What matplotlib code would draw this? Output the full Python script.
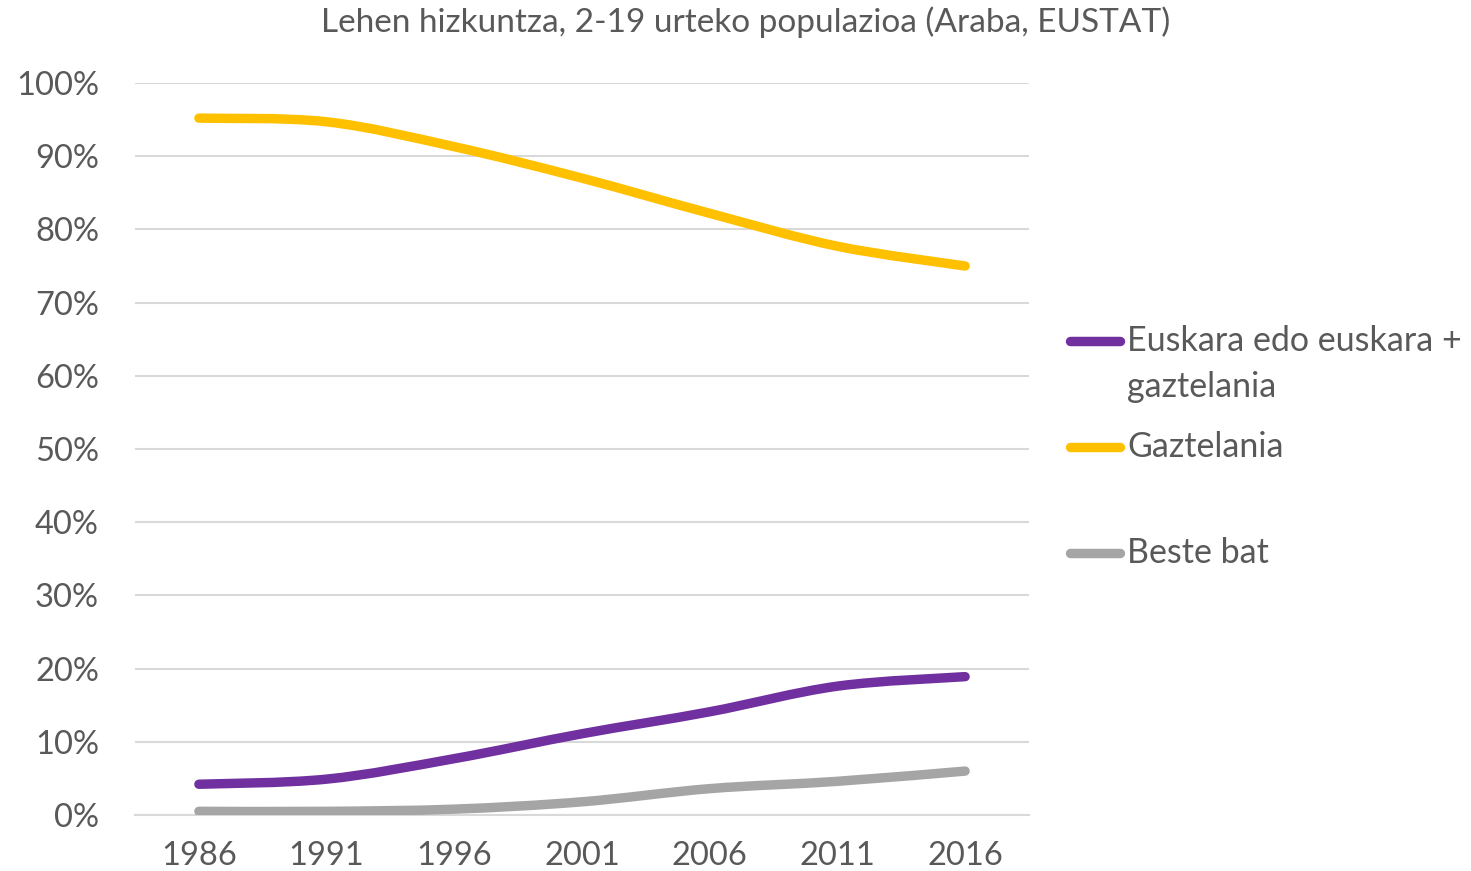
import numpy as np
import matplotlib.pyplot as plt
from matplotlib.path import Path
from matplotlib.patches import PathPatch
from matplotlib.lines import Line2D

years = ["1986", "1991", "1996", "2001", "2006", "2011", "2016"]
euskara = [4.2, 4.9, 7.7, 11.1, 14.1, 17.6, 18.9]
gaztelania = [95.2, 94.7, 91.3, 87.0, 82.2, 77.7, 75.0]
beste = [0.5, 0.5, 0.8, 1.8, 3.6, 4.6, 6.0]

series = [
    ("Euskara edo euskara +\ngaztelania", euskara, "#7030A0"),
    ("Gaztelania", gaztelania, "#FFC000"),
    ("Beste bat", beste, "#A5A5A5"),
]

plt.rcParams['font.family'] = ['Lato', 'DejaVu Sans']
txt = "#595959"


def smooth_path(x, y):
    # excel-like smoothed line: cubic bezier with catmull-rom control points
    pts = np.column_stack([x, y]).astype(float)
    n = len(pts)
    verts = [pts[0]]
    codes = [Path.MOVETO]
    for i in range(n - 1):
        p0 = pts[max(i - 1, 0)]
        p1 = pts[i]
        p2 = pts[i + 1]
        p3 = pts[min(i + 2, n - 1)]
        c1 = p1 + (p2 - p0) / 6
        c2 = p2 - (p3 - p1) / 6
        verts += [c1, c2, p2]
        codes += [Path.CURVE4] * 3
    return Path(verts, codes)


fig = plt.figure(figsize=(14.71, 8.71), dpi=100)
ax = fig.add_axes([0.0918, 0.0643, 0.6077, 0.8404])

x = np.arange(len(years))
for name, vals, col in series:
    p = PathPatch(smooth_path(x, vals), fill=False, edgecolor=col, lw=6.8,
                  capstyle='round', joinstyle='round', zorder=3)
    ax.add_patch(p)

ax.set_xlim(-0.5, len(years) - 0.5)
ax.set_ylim(0, 100)
ax.set_yticks(range(0, 101, 10))
ax.set_yticklabels([f"{v}%" for v in range(0, 101, 10)])
ax.set_xticks(x)
ax.set_xticklabels(years)
ax.grid(axis='y', color='#D9D9D9', lw=1.5)
ax.set_axisbelow(True)
for s in ax.spines.values():
    s.set_visible(False)
ax.spines['bottom'].set_visible(True)
ax.spines['bottom'].set_color('#D9D9D9')
ax.spines['bottom'].set_linewidth(1.5)
ax.tick_params(length=0, labelsize=23.5, labelcolor=txt)
ax.tick_params(axis='y', pad=26)
ax.tick_params(axis='x', pad=19)

fig.text(0.507, 0.974, "Lehen hizkuntza, 2-19 urteko populazioa (Araba, EUSTAT)",
         ha='center', va='center', fontsize=24, color=txt)

# legend, placed by hand
leg_y = [341, 447, 553]
for (name, vals, col), yp in zip(series, leg_y):
    yf = 1 - yp / 871
    fig.add_artist(Line2D([1070 / 1471, 1120 / 1471], [yf, yf], color=col,
                          lw=6.8, solid_capstyle='round', transform=fig.transFigure))
    lines = name.split('\n')
    for k, line in enumerate(lines):
        fig.text(1127 / 1471, 1 - (yp + 46 * k) / 871, line, ha='left', va='center',
                 fontsize=24.5, color=txt)

fig.savefig("out.png", dpi=100)
